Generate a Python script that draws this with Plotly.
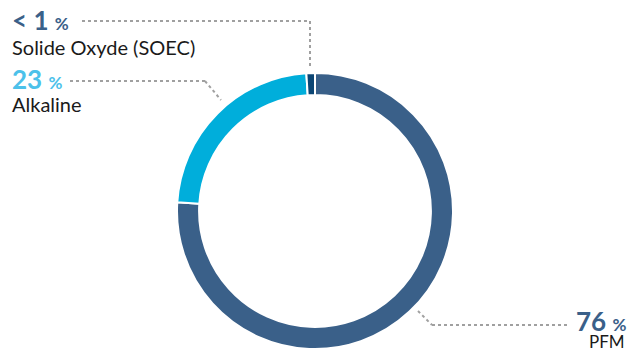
import plotly.graph_objects as go

# Electrolyser technology shares
labels = ["PFM", "Alkaline", "Solide Oxyde (SOEC)"]
values = [76, 23, 1]
value_texts = ["76", "23", "< 1"]
colors = ["#3a6089", "#00aedb", "#0c4674"]
label_colors = ["#3a6089", "#4cc1ea", "#3a6089"]

W, H = 629, 350


def px(x):
    return x / W


def py(y):
    return 1 - y / H


cx, cy, R = 315, 211, 138

fig = go.Figure()
fig.add_trace(go.Pie(
    labels=labels,
    values=values,
    hole=0.84,
    sort=False,
    direction="clockwise",
    rotation=0,
    marker=dict(colors=colors, line=dict(color="white", width=2)),
    textinfo="none",
    hoverinfo="label+percent",
    showlegend=False,
    domain=dict(x=[px(cx - R), px(cx + R)], y=[py(cy + R), py(cy - R)]),
))

dot = dict(color="#a0a0a0", width=2, dash="dot")
shapes = [
    # SOEC leader
    dict(type="line", x0=px(82), y0=py(21), x1=px(310), y1=py(21), line=dot),
    dict(type="line", x0=px(310), y0=py(21), x1=px(310), y1=py(66), line=dot),
    # Alkaline leader
    dict(type="line", x0=px(70), y0=py(81), x1=px(205), y1=py(81), line=dot),
    dict(type="line", x0=px(205), y0=py(81), x1=px(221), y1=py(100), line=dot),
    # PFM leader
    dict(type="line", x0=px(418), y0=py(311), x1=px(432), y1=py(325), line=dot),
    dict(type="line", x0=px(432), y0=py(325), x1=px(568), y1=py(325), line=dot),
]


def val_text(v):
    v = v.replace("<", "&lt;")
    return f"<b>{v} <span style='font-size:17px'>%</span></b>"


font = "Lato, 'Open Sans', sans-serif"
ann = [
    dict(x=px(10), y=py(20), text=val_text(value_texts[2]),
         font=dict(size=26, color=label_colors[2], family=font), xanchor="left", yanchor="middle"),
    dict(x=px(10), y=py(47), text=labels[2],
         font=dict(size=20, color="#1a1a1a", family=font), xanchor="left", yanchor="middle"),
    dict(x=px(10), y=py(79), text=val_text(value_texts[1]),
         font=dict(size=26, color=label_colors[1], family=font), xanchor="left", yanchor="middle"),
    dict(x=px(10), y=py(104), text=labels[1],
         font=dict(size=20, color="#1a1a1a", family=font), xanchor="left", yanchor="middle"),
    dict(x=px(628), y=py(321), text=val_text(value_texts[0]),
         font=dict(size=26, color=label_colors[0], family=font), xanchor="right", yanchor="middle"),
    dict(x=px(627), y=py(341), text=labels[0],
         font=dict(size=17, color="#1a1a1a", family=font), xanchor="right", yanchor="middle"),
]
for a in ann:
    a.update(xref="paper", yref="paper", showarrow=False)
for s in shapes:
    s.update(xref="paper", yref="paper")

fig.update_layout(
    width=W, height=H,
    margin=dict(l=0, r=0, t=0, b=0),
    paper_bgcolor="white", plot_bgcolor="white",
    shapes=shapes, annotations=ann,
)
fig.write_html("out.html")
